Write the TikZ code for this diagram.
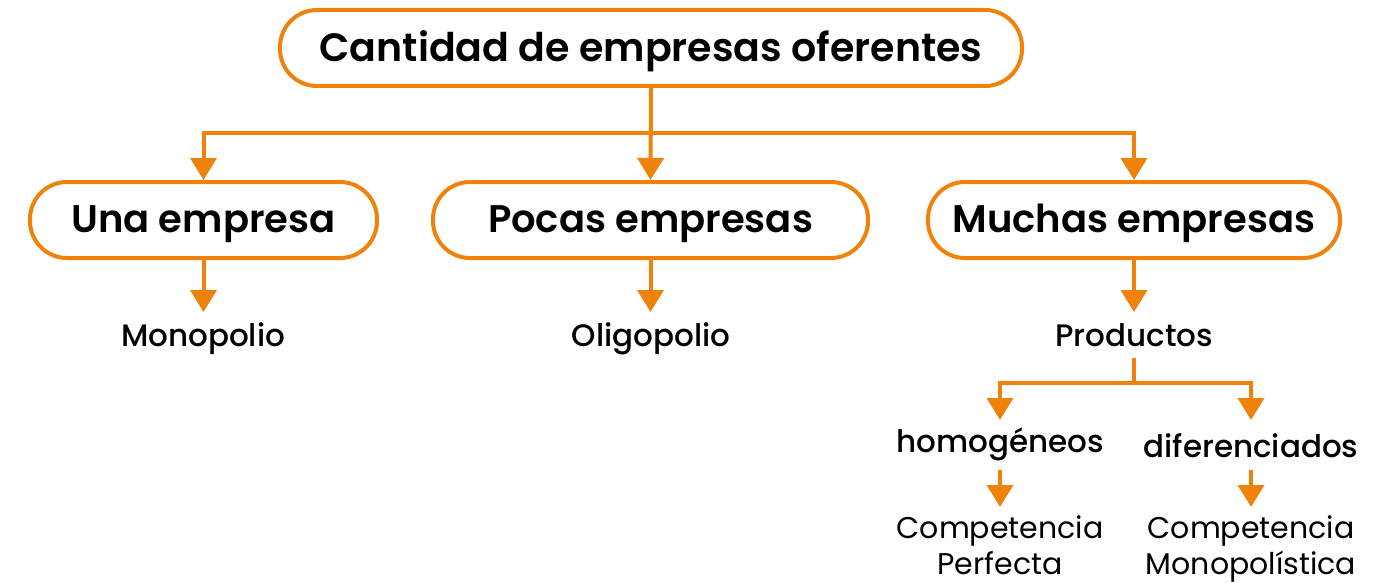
\documentclass[tikz,border=0pt]{standalone}
\usepackage{fontspec}
\setmainfont{Poppins}
\newfontfamily\medfont{Poppins}[UprightFont=*-Medium]
\newfontfamily\boldfont{Poppins}[UprightFont=*-SemiBold]
\usetikzlibrary{arrows.meta}
\definecolor{orng}{RGB}{238,130,10}
\begin{document}
\begin{tikzpicture}[x=1pt,y=-1pt,
  pill/.style={draw=orng,line width=4pt,rounded corners=37pt,inner sep=0pt,font=\boldfont\fontsize{38.5}{44}\selectfont,text=black,text height=0.7em,text depth=0pt},
  lbl/.style={inner sep=0pt,font=\medfont\fontsize{31}{36}\selectfont,text height=0.7em,text depth=0pt},
  sub/.style={inner sep=0pt,font=\fontsize{30}{36}\selectfont,align=center},
  conn/.style={draw=orng,line width=4pt},
  arr/.style={conn,-{Triangle[length=22pt,width=26pt]}}]
\useasboundingbox (0,0) rectangle (1389,583);
\node[pill,minimum width=742pt,minimum height=76pt,font=\boldfont\fontsize{39.5}{44}\selectfont] (top) at (651,48) {\raisebox{-10pt}{Cantidad de empresas oferentes}};
\node[pill,minimum width=347pt,minimum height=76pt] (una) at (203.5,220) {\raisebox{-9pt}{Una empresa}};
\node[pill,minimum width=435pt,minimum height=76pt] (pocas) at (650.5,220) {\raisebox{-9pt}{Pocas empresas}};
\node[pill,minimum width=412pt,minimum height=76pt] (muchas) at (1134,220) {\raisebox{-9pt}{Muchas empresas}};
\node[lbl] (mono) at (203,343) {Monopolio};
\node[lbl] (oligo) at (651,343) {Oligopolio};
\node[lbl] (prod) at (1134,343) {Productos};
\node[lbl] (homo) at (1000,449) {homogéneos};
\node[lbl] (dif) at (1251,454) {diferenciados};
\node[sub] (cp) at (1000,545) {Competencia\\Perfecta};
\node[sub] (cm) at (1251,548.5) {Competencia\\Monopolística};
\coordinate (j1) at (651,133);
\coordinate (j2) at (1134,383);
\draw[arr] (top.south) -- (pocas.north);
\draw[arr] (j1) -| (una.north);
\draw[arr] (j1) -| (muchas.north);
\draw[arr] (una.south) -- ++(0,52);
\draw[arr] (pocas.south) -- ++(0,52);
\draw[arr] (muchas.south) -- ++(0,52);
\draw[conn] (1134,358) -- (j2);
\draw[arr] ([xshift=2pt]j2) -| (1000,420);
\draw[arr] ([xshift=-2pt]j2) -| (1251,420);
\draw[arr] (1000,470) -- (1000,507);
\draw[arr] (1251,470) -- (1251,507);
\end{tikzpicture}
\end{document}
